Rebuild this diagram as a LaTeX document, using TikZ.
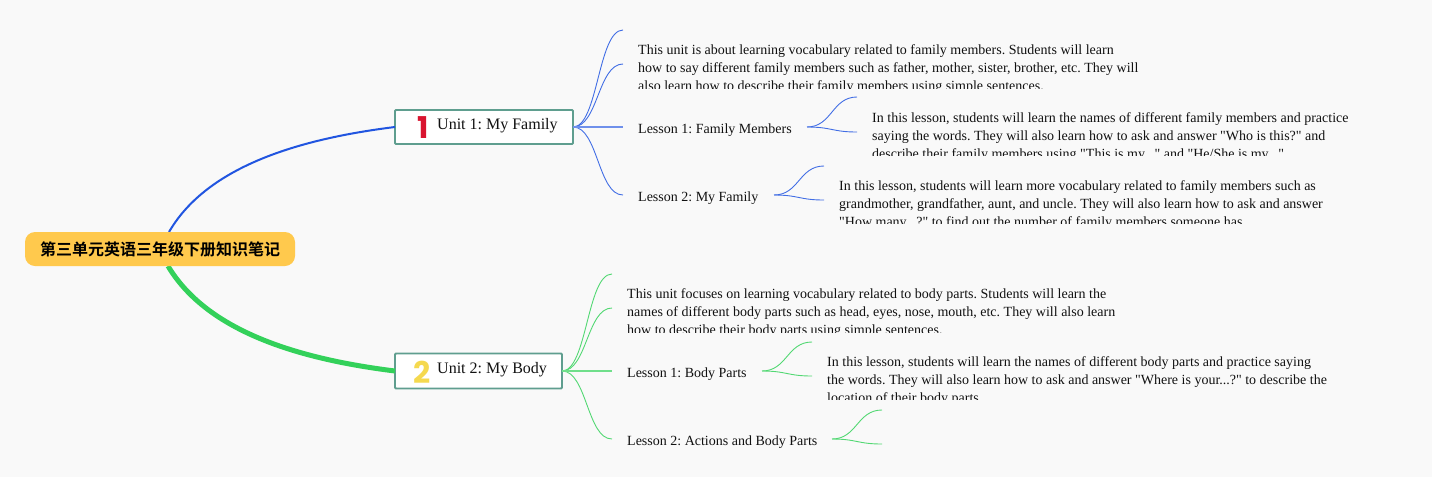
\documentclass[tikz,border=0pt]{standalone}
\usepackage{fontspec}
\setmainfont{Liberation Serif}[Ligatures=TeXOff]
\newfontfamily\cjkbold{Noto Sans CJK SC Bold}
\newfontfamily\digitfont{Poppins Bold}
\definecolor{bgc}{HTML}{F9F9F9}
\definecolor{rootc}{HTML}{FFC94D}
\definecolor{boxc}{HTML}{5F9E8F}
\definecolor{bluec}{HTML}{2155E0}
\definecolor{greenc}{HTML}{33D15A}
\definecolor{onec}{HTML}{D9142F}
\definecolor{twoc}{HTML}{F5D94F}
\definecolor{textc}{HTML}{111111}
\tikzset{
  rootbox/.style={fill=rootc,rounded corners=10pt,minimum width=270pt,minimum height=34pt,inner sep=0pt,outer sep=0pt,font=\cjkbold\fontsize{16}{20}\selectfont,text=black},
  unitbox/.style={draw=boxc,line width=1.8pt,fill=white,rounded corners=1pt,inner sep=0pt,outer sep=0pt},
  unittext/.style={anchor=base west,inner sep=0pt,font=\fontsize{16}{18}\selectfont,text=textc},
  numeral/.style={anchor=base,inner sep=0pt,font=\digitfont\fontsize{30}{30}\selectfont},
  lessontext/.style={anchor=base west,inner sep=0pt,font=\fontsize{14}{18}\selectfont,text=textc},
  bodytext/.style={anchor=north west,inner sep=0pt,align=left,font=\fontsize{14}{18}\selectfont,text=textc},
  mainblue/.style={draw=bluec,line width=2pt},
  maingreen/.style={draw=greenc,line width=5pt},
  thinblue/.style={draw=bluec!85!white,line width=0.9pt},
  thingreen/.style={draw=greenc!85!white,line width=0.9pt},
  flatblue/.style={draw=bluec!65!white,line width=1.6pt},
  flatgreen/.style={draw=greenc!70!white,line width=1.6pt},
}
\newcommand{\sbranch}[3]{\draw[#1] (#2) .. controls +(25,0) and +(-25,0) .. (#3);}
\begin{document}
\frenchspacing
\begin{tikzpicture}[x=1pt,y=-1pt]
\useasboundingbox (0,0) rectangle (1432,477);
\fill[bgc] (0,0) rectangle (1432,477);

% junction coordinates
\coordinate (r1) at (169,232);
\coordinate (r2) at (168,266);
\coordinate (a1) at (623,30);  \coordinate (a2) at (623,64);
\coordinate (a3) at (623,127); \coordinate (a4) at (623,195);
\coordinate (b0) at (807,127); \coordinate (b1) at (857,97);  \coordinate (b2) at (857,132);
\coordinate (c0) at (774,195); \coordinate (c1) at (824,166); \coordinate (c2) at (824,200);
\coordinate (d1) at (612,274); \coordinate (d2) at (612,308);
\coordinate (d3) at (612,371); \coordinate (d4) at (612,439);
\coordinate (e0) at (762,371); \coordinate (e1) at (812,342); \coordinate (e2) at (812,376);
\coordinate (f0) at (832,439); \coordinate (f1) at (882,410); \coordinate (f2) at (882,444);

% nodes
\node[unitbox,anchor=north west,minimum width=178pt,minimum height=34pt] (u1) at (395,110) {};
\node[unitbox,anchor=north west,minimum width=167pt,minimum height=35pt] (u2) at (395,353.5) {};

% main connectors
\draw[mainblue] (r1) .. controls (205,170) and (290,140) .. (u1.west);
\draw[maingreen] (r2) .. controls (205,328) and (290,358) .. (u2.west);

\node[rootbox,anchor=north west] (root) at (25,232) {\raisebox{-1pt}{第三单元英语三年级下册知识笔记}};

\node[numeral,text=onec] (n1) at (423,138) {1};
\node[numeral,text=twoc] (n2) at (422,383) {2};
\node[unittext] (t1) at (437,129) {Unit 1: My Family};
\node[unittext] (t2) at (437,373) {Unit 2: My Body};

\begin{scope}
\clip (630,115) rectangle (800,135);
\node[lessontext] (l1) at (638,133) {Lesson 1: Family Members};
\end{scope}
\begin{scope}
\clip (630,183) rectangle (770,203);
\node[lessontext] (l2) at (638,201) {Lesson 2: My Family};
\end{scope}
\begin{scope}
\clip (620,359) rectangle (755,379);
\node[lessontext] (l3) at (627,377) {Lesson 1: Body Parts};
\end{scope}
\begin{scope}
\clip (620,427) rectangle (825,447);
\node[lessontext] (l4) at (627,445) {Lesson 2: Actions and Body Parts};
\end{scope}

\begin{scope}
\clip (630,40) rectangle (1150,88);
\node[bodytext] (p1) at (638,44) {This unit is about learning vocabulary related to family members. Students will learn\\how to say different family members such as father, mother, sister, brother, etc. They will\\also learn how to describe their family members using simple sentences.};
\end{scope}
\begin{scope}
\clip (865,105) rectangle (1360,155);
\node[bodytext] (p2) at (872,112) {In this lesson, students will learn the names of different family members and practice\\saying the words. They will also learn how to ask and answer "Who is this?" and\\describe their family members using "This is my..." and "He/She is my..."};
\end{scope}
\begin{scope}
\clip (832,172) rectangle (1335,223);
\node[bodytext] (p3) at (839,180) {In this lesson, students will learn more vocabulary related to family members such as\\grandmother, grandfather, aunt, and uncle. They will also learn how to ask and answer\\"How many...?" to find out the number of family members someone has.};
\end{scope}
\begin{scope}
\clip (620,280) rectangle (1125,332);
\node[bodytext] (p4) at (627,288) {This unit focuses on learning vocabulary related to body parts. Students will learn the\\names of different body parts such as head, eyes, nose, mouth, etc. They will also learn\\how to describe their body parts using simple sentences.};
\end{scope}
\begin{scope}
\clip (820,348) rectangle (1335,399);
\node[bodytext] (p5) at (827,356) {In this lesson, students will learn the names of different body parts and practice saying\\the words. They will also learn how to ask and answer "Where is your...?" to describe the\\location of their body parts.};
\end{scope}

% branches
\foreach \t in {a1,a2,a4} {\sbranch{thinblue}{u1.east}{\t}}
\draw[flatblue] (u1.east) -- (a3);
\sbranch{thinblue}{b0}{b1}
\sbranch{thinblue}{b0}{b2}
\sbranch{thinblue}{c0}{c1}
\sbranch{thinblue}{c0}{c2}
\foreach \t in {d1,d2,d4} {\sbranch{thingreen}{u2.east}{\t}}
\draw[flatgreen] (u2.east) -- (d3);
\sbranch{thingreen}{e0}{e1}
\sbranch{thingreen}{e0}{e2}
\sbranch{thingreen}{f0}{f1}
\sbranch{thingreen}{f0}{f2}
\end{tikzpicture}
\end{document}
